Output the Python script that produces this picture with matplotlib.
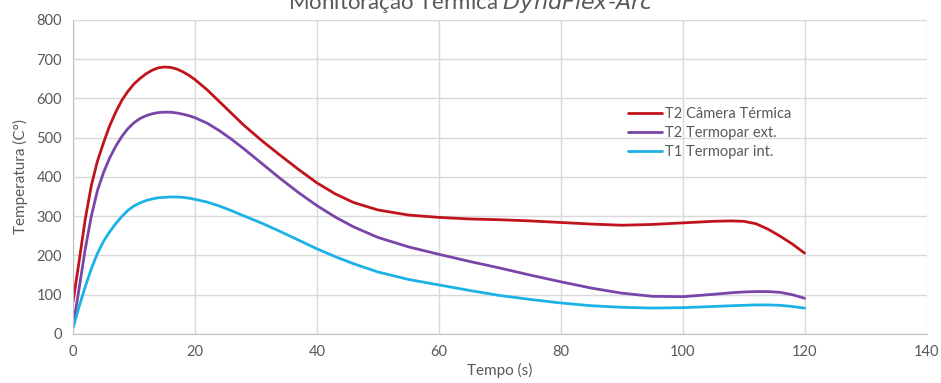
import matplotlib
matplotlib.use("Agg")
import matplotlib.pyplot as plt
import numpy as np

plt.rcParams['font.family'] = ['Lato', 'DejaVu Sans']

# tempo (s)
tempo = [0, 1, 2, 3, 4, 5, 6, 7, 8, 9, 10, 11, 12, 13, 14, 15, 16, 17, 18, 19, 20,
         22, 24, 26, 28, 31, 34, 37, 40, 43, 46, 50, 55, 60, 65, 70, 75, 80, 85, 90, 95,
         100, 105, 108, 110, 112, 114, 116, 118, 120]

# T2 camera termica
t2_camera = [82, 185, 292, 378, 440, 487, 530, 565, 595, 618, 637, 651, 663, 672, 678, 680, 679, 675, 668, 659, 648,
             622, 592, 562, 532, 492, 455, 419, 385, 357, 335, 316, 303, 297, 293, 291, 288, 284, 280, 277, 279,
             283, 287, 288, 287, 281, 267, 249, 229, 206]

# T2 termopar externo
t2_termopar = [19, 116, 216, 300, 365, 411, 448, 478, 503, 523, 538, 549, 556, 561, 564, 565, 565, 563, 560, 556, 551,
               537, 518, 496, 472, 434, 396, 360, 327, 298, 273, 246, 222, 203, 185, 168, 150, 133, 117, 104, 96,
               95, 101, 105, 107, 108, 108, 106, 100, 91]

# T1 termopar interno
t1_termopar = [15, 70, 120, 166, 205, 236, 260, 281, 299, 315, 326, 334, 340, 344, 347, 348, 349, 349, 348, 346, 343,
               336, 326, 314, 301, 282, 261, 239, 217, 197, 179, 158, 139, 125, 111, 98, 88, 79, 72, 68, 66,
               67, 70, 72, 73, 74, 74, 73, 70, 66]

labels = ['T2 Câmera Térmica', 'T2 Termopar ext.', 'T1 Termopar int.']
cores = ['#C0141C', '#7A45A8', '#1DB2E6']

fig = plt.figure(figsize=(9.41, 3.83), dpi=100)
ax = fig.add_axes([0.0776, 0.128, 0.907, 0.82])

for serie, lab, cor in zip([t2_camera, t2_termopar, t1_termopar], labels, cores):
    ax.plot(tempo, serie, color=cor, lw=2.0, label=lab, solid_capstyle='round', solid_joinstyle='round')

ax.set_xlim(0, 140)
ax.set_ylim(0, 800)
ax.set_xticks(np.arange(0, 141, 20))
ax.set_yticks(np.arange(0, 801, 100))
ax.grid(True, color='#d9d9d9', lw=1.0)
ax.set_axisbelow(True)
for s in ['top', 'right']:
    ax.spines[s].set_visible(False)
for s in ['left', 'bottom']:
    ax.spines[s].set_color('#bfbfbf')
ax.tick_params(length=0, colors='#595959', labelsize=10.5, pad=8)

ax.set_xlabel('Tempo (s)', color='#595959', fontsize=11, labelpad=3)
ax.set_ylabel('Temperatura (C°)', color='#595959', fontsize=11, labelpad=6)

# titulo cortado no topo como na imagem original
fig.text(0.50, 0.992, 'Monitoração Térmica $\\it{DyndFlex}$-$\\it{Arc}$', ha='center', va='center',
         fontsize=16, color='#595959')

leg = ax.legend(loc='upper left', bbox_to_anchor=(0.635, 0.765), frameon=False,
                fontsize=10.5, handlelength=2.3, handletextpad=0.2, labelspacing=0.35)
for t in leg.get_texts():
    t.set_color('#595959')

fig.savefig('out.png', dpi=100)
